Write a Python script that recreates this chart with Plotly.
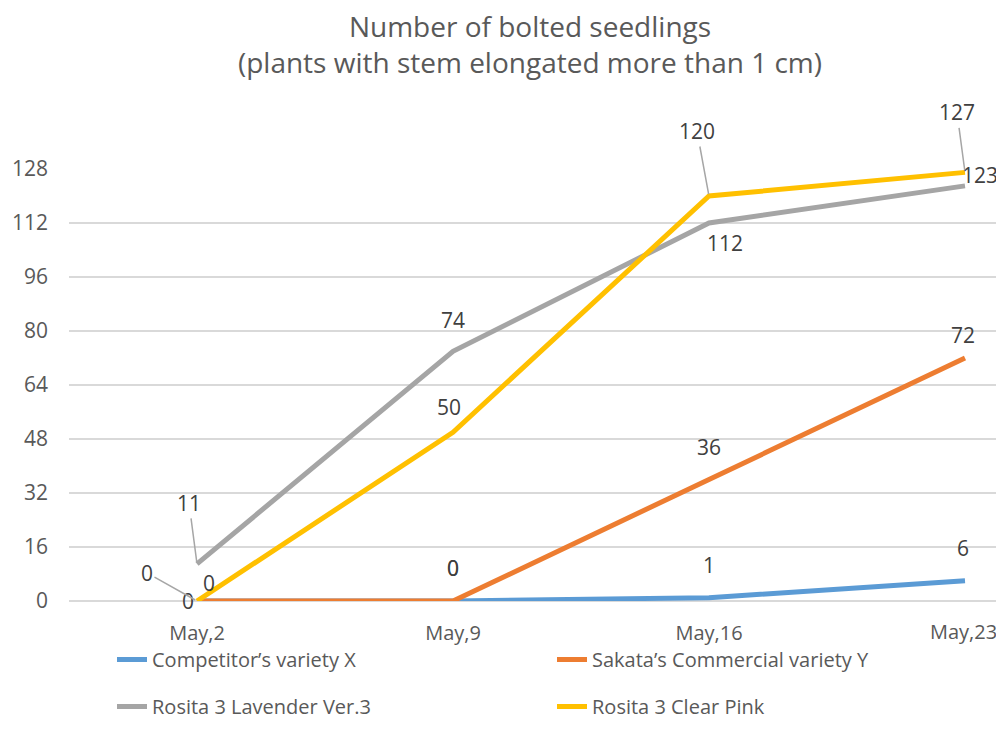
import plotly.graph_objects as go

dates = ["May,2", "May,9", "May,16", "May,23"]
competitor_x = [0, 0, 1, 6]
sakata_y = [0, 0, 36, 72]
lavender = [11, 74, 112, 123]
clear_pink = [0, 50, 120, 127]
y_ticks = [0, 16, 32, 48, 64, 80, 96, 112, 128]

series = [
    ("Competitor’s variety X", competitor_x, "#5B9BD5", "legend"),
    ("Sakata’s Commercial variety Y", sakata_y, "#ED7D31", "legend"),
    ("Rosita 3 Lavender Ver.3", lavender, "#A5A5A5", "legend2"),
    ("Rosita 3 Clear Pink", clear_pink, "#FFC000", "legend2"),
]

FONT = "Open Sans, Lato, sans-serif"
TXT = "#404040"
GRAYTXT = "#595959"
LBL = 21

# page body adds an 8px offset; figure sized to the visible area
W, H = 996, 732
ML, MT, MB = 61, 161, 139
PLOT_W = W - ML
PLOT_H = H - MT - MB

fig = go.Figure()
for name, vals, color, lg in series:
    fig.add_trace(go.Scatter(
        x=dates, y=vals, name=name, mode="lines",
        line=dict(color=color, width=5), legend=lg,
    ))

# label placement per series/point: (xshift, yshift, arrow (ax, ay) or None)
label_style = {
    0: [(-9, 0, None), (0, 33, None), (0, 33, None), (-2, 33, None)],
    1: [(12, 18, None), (0, 33, None), (0, 33, None), (-2, 23, None)],
    2: [(0, 0, (-8, -61)), (0, 31, None), (16, -20, None), (15, 11, None)],
    3: [(0, 0, (-50, -28)), (-4, 25, None), (0, 0, (-12, -65)), (0, 0, (-8, -60))],
}

for si, (name, vals, color, lg) in enumerate(series):
    for pi, v in enumerate(vals):
        xs, ys, arr = label_style[si][pi]
        if arr is None:
            fig.add_annotation(x=dates[pi], y=v, text=str(v), showarrow=False,
                               xshift=xs, yshift=ys,
                               font=dict(family=FONT, size=LBL, color=TXT))
        else:
            fig.add_annotation(x=dates[pi], y=v, text=str(v), showarrow=True,
                               ax=arr[0], ay=arr[1], arrowhead=0, arrowwidth=1.5,
                               arrowcolor="#A6A6A6", standoff=2,
                               font=dict(family=FONT, size=LBL, color=TXT))

# last category label, kept inside the picture as in the reference
fig.add_annotation(x=dates[-1], y=0, yref="paper", text=dates[-1], showarrow=False,
                   xanchor="right", yanchor="middle", xshift=34, yshift=-30,
                   font=dict(family=FONT, size=20, color=GRAYTXT))

fig.update_layout(
    width=W, height=H,
    margin=dict(l=ML, r=0, t=MT, b=MB, autoexpand=False),
    paper_bgcolor="white", plot_bgcolor="white",
    title=dict(
        text="Number of bolted seedlings<br>(plants with stem elongated more than 1 cm)",
        x=522 / W, xanchor="center", y=1 - 29 / H, yanchor="middle",
        font=dict(family=FONT, size=28, color=GRAYTXT),
    ),
    xaxis=dict(
        type="category", range=[-0.5, PLOT_W / 256 - 0.5],
        tickvals=dates[:-1],
        showgrid=False, showline=False, zeroline=False,
        ticks="", ticklabelstandoff=18,
        tickfont=dict(family=FONT, size=20, color=GRAYTXT),
    ),
    yaxis=dict(
        range=[0, 128], tickvals=y_ticks,
        showgrid=True, gridcolor="#D9D9D9", gridwidth=2,
        zeroline=True, zerolinecolor="#D9D9D9", zerolinewidth=2,
        showline=False, ticks="", ticklabelstandoff=20,
        tickfont=dict(family=FONT, size=LBL, color=GRAYTXT),
    ),
    legend=dict(orientation="h", x=(104 - ML) / PLOT_W, xanchor="left",
                y=-(632 - (H - MB)) / PLOT_H, yanchor="top",
                entrywidth=395, entrywidthmode="pixels",
                font=dict(family=FONT, size=20, color=GRAYTXT),
                bgcolor="rgba(0,0,0,0)"),
    legend2=dict(orientation="h", x=(104 - ML) / PLOT_W, xanchor="left",
                 y=-(679 - (H - MB)) / PLOT_H, yanchor="top",
                 entrywidth=395, entrywidthmode="pixels",
                 font=dict(family=FONT, size=20, color=GRAYTXT),
                 bgcolor="rgba(0,0,0,0)"),
    showlegend=True,
)

fig.write_html("out.html")
